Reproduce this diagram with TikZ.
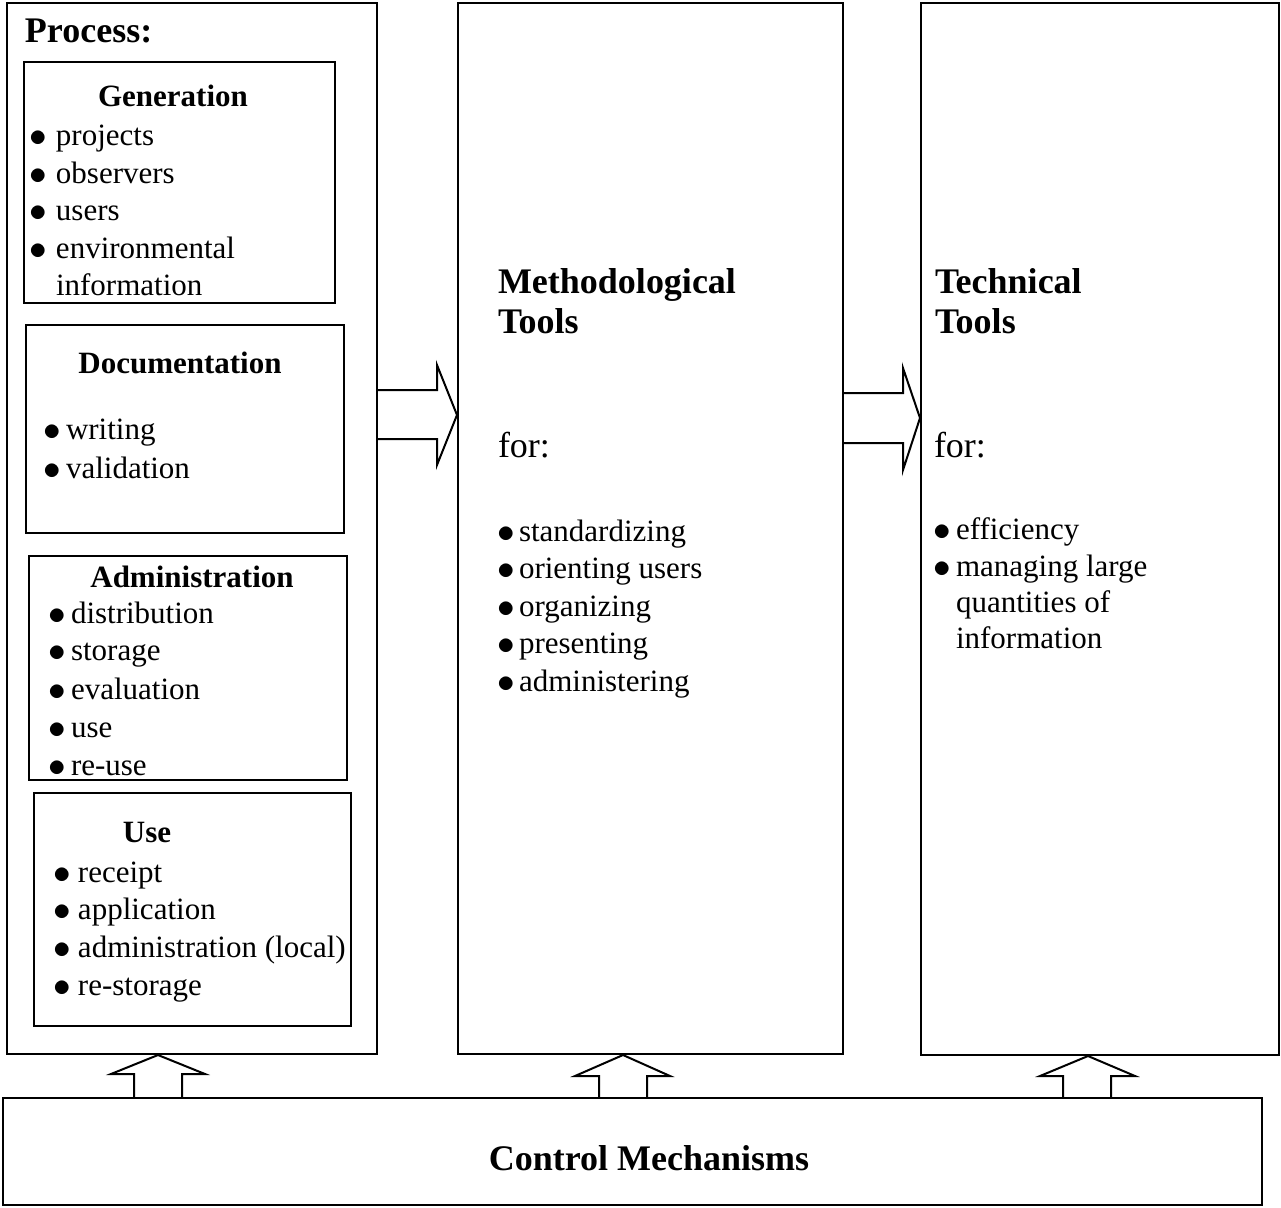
\documentclass[tikz,border=0pt]{standalone}
\usepackage{fontspec}
\setmainfont{Liberation Serif}
\usetikzlibrary{fit}

\newcommand{\bodyfont}{\fontsize{15.5}{19}\selectfont}
\newcommand{\headfont}{\fontsize{18}{21}\selectfont\bfseries}
\newcommand{\bul}[1][11.5pt]{\makebox[#1][l]{\raisebox{-0.06em}{\scalebox{1.22}{$\bullet$}}}}

\begin{document}
\begin{tikzpicture}[x=0.5pt, y=-0.5pt, line width=1pt,
    box/.style={draw, inner sep=0pt},
    head/.style={anchor=base west, inner sep=0pt, font=\headfont},
    subhead/.style={anchor=base, inner sep=0pt, font=\bodyfont\bfseries},
    item/.style={anchor=base west, inner sep=0pt, font=\bodyfont},
    blockarrow/.style={draw, line join=miter}]
    \useasboundingbox (0,0) rectangle (1281,1207);

    % boxes
    \node[box, fit={(7,3) (377,1054)}] (proc) {};
    \node[box, fit={(24,62) (335,303)}] (gen) {};
    \node[box, fit={(26,325) (344,533)}] (doc) {};
    \node[box, fit={(29,556) (347,780)}] (adm) {};
    \node[box, fit={(34,793) (351,1026)}] (use) {};
    \node[box, fit={(458,3) (843,1054)}] (meth) {};
    \node[box, fit={(921,3) (1279,1055)}] (tech) {};
    \node[box, fit={(3,1098) (1262,1205)}] (ctrl) {};

    % process column
    \node[head] (proctitle) at (24,42) {Process:};
    \node[subhead] (gentitle) at (173,106) {Generation};
    \node[item] (gen1) at (29,145) {\bul[13pt]projects};
    \node[item] (gen2) at (29,183) {\bul[13pt]observers};
    \node[item] (gen3) at (29,220) {\bul[13pt]users};
    \node[item] (gen4) at (29,258) {\bul[13pt]environmental};
    \node[item] (gen5) at (55,295) {information};

    \node[subhead] (doctitle) at (180,373) {Documentation};
    \node[item] (doc1) at (42,439) {\bul writing};
    \node[item] (doc2) at (42,478) {\bul validation};

    \node[subhead] (admtitle) at (192,587) {Administration};
    \node[item] (adm1) at (47,623) {\bul distribution};
    \node[item] (adm2) at (47,660) {\bul storage};
    \node[item] (adm3) at (47,699) {\bul evaluation};
    \node[item] (adm4) at (47,737) {\bul use};
    \node[item] (adm5) at (47,775) {\bul re-use};

    \node[subhead] (usetitle) at (147,842) {Use};
    \node[item] (use1) at (53,882) {\bul[12pt]receipt};
    \node[item] (use2) at (53,919) {\bul[12pt]application};
    \node[item] (use3) at (53,957) {\bul[12pt]administration (local)};
    \node[item] (use4) at (53,995) {\bul[12pt]re-storage};

    % methodological tools
    \node[head] (meth1) at (497,293) {Methodological};
    \node[head] (meth2) at (497,333) {Tools};
    \node[item, font=\fontsize{18}{21}\selectfont] (methfor) at (497,457) {for:};
    \node[item] (methi1) at (496,541) {\bul[11pt]standardizing};
    \node[item] (methi2) at (496,578) {\bul[11pt]orienting users};
    \node[item] (methi3) at (496,616) {\bul[11pt]organizing};
    \node[item] (methi4) at (496,653) {\bul[11pt]presenting};
    \node[item] (methi5) at (496,691) {\bul[11pt]administering};

    % technical tools
    \node[head] (tech1) at (934,293) {Technical};
    \node[head] (tech2) at (934,333) {Tools};
    \node[item, font=\fontsize{18}{21}\selectfont] (techfor) at (933,457) {for:};
    \node[item] (techi1) at (932,539) {\bul efficiency};
    \node[item] (techi2) at (932,576) {\bul managing large};
    \node[item] (techi3) at (955,612) {quantities of};
    \node[item] (techi4) at (955,648) {information};

    % control
    \node[head, anchor=base] (ctrltitle) at (649,1170) {Control Mechanisms};

    % block arrows between columns
    \draw[blockarrow] (proc.east |- 0,390) -- (437,390) -- (437,365)
        -- (meth.west |- 0,415) -- (437,465) -- (437,439) -- (proc.east |- 0,439);
    \draw[blockarrow] (meth.east |- 0,393) -- (903,393) -- (903,368)
        -- (tech.west |- 0,418) -- (903,470) -- (903,443) -- (meth.east |- 0,443);

    % block arrows from control
    \draw[blockarrow] (ctrl.north -| 134,0) -- (134,1074) -- (111,1074)
        -- (proc.south -| 158,0) -- (205,1074) -- (182,1074) -- (ctrl.north -| 182,0);
    \draw[blockarrow] (ctrl.north -| 599,0) -- (599,1076) -- (575,1076)
        -- (meth.south -| 623,0) -- (670,1076) -- (647,1076) -- (ctrl.north -| 647,0);
    \draw[blockarrow] (ctrl.north -| 1063,0) -- (1063,1076) -- (1040,1076)
        -- (tech.south -| 1088,0) -- (1135,1076) -- (1111,1076) -- (ctrl.north -| 1111,0);
\end{tikzpicture}
\end{document}
